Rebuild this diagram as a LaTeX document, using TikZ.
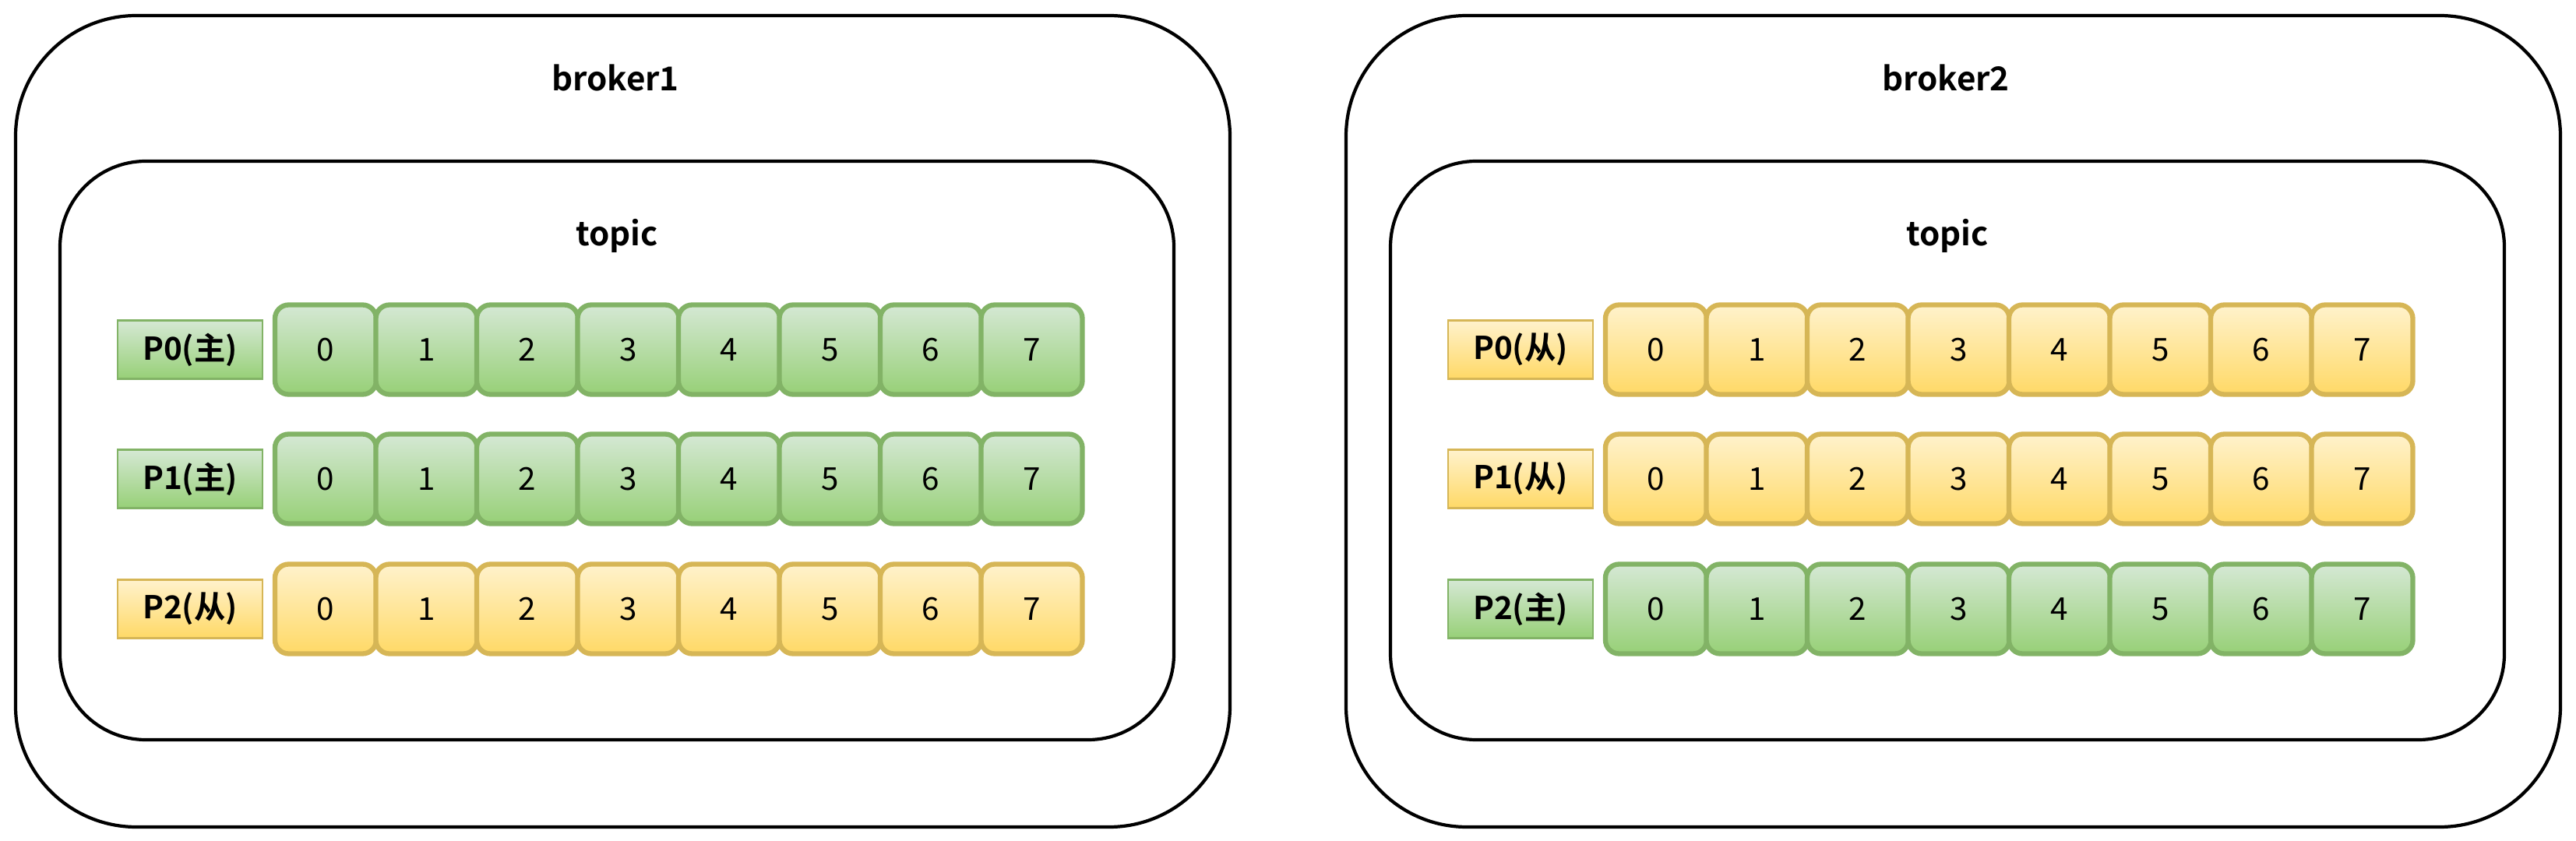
\documentclass[tikz,border=0pt]{standalone}
\usepackage{fontspec}
\setmainfont{Noto Sans CJK SC}[BoldFont={Noto Sans CJK SC Bold}]
\usepackage{xcolor}
\definecolor{LeadTop}{HTML}{D5E8D4}
\definecolor{LeadBottom}{HTML}{97D077}
\definecolor{LeadEdge}{HTML}{82B366}
\definecolor{FollowTop}{HTML}{FFF2CC}
\definecolor{FollowBottom}{HTML}{FFD966}
\definecolor{FollowEdge}{HTML}{D6B656}
\usepackage{tikz}
\usetikzlibrary{positioning}

\begin{document}
\begin{tikzpicture}[
    font=\fontsize{11.5}{13}\selectfont,
    broker_wall/.style={draw=black, line width=1.2pt, rounded corners=1.55cm, minimum width=15.59cm, minimum height=10.42cm, inner sep=0},
    topic_wall/.style={draw=black, line width=1.2pt, rounded corners=1.1cm, minimum width=14.3cm, minimum height=7.43cm, inner sep=0},
    title_text/.style={font=\fontsize{12}{14}\selectfont\bfseries},
    leader/.style={draw=LeadEdge, top color=LeadTop, bottom color=LeadBottom},
    follower/.style={draw=FollowEdge, top color=FollowTop, bottom color=FollowBottom},
    part_tag/.style={minimum width=1.86cm, minimum height=0.75cm, inner sep=0, line width=0.8pt, font=\fontsize{11.5}{13}\selectfont\bfseries},
    slot/.style={minimum width=1.3cm, minimum height=1.15cm, inner sep=0, outer sep=0, rounded corners=5pt, line width=1.8pt}
]
    \useasboundingbox (0,0) rectangle (33.07,-10.8);

    % 1. BROKER 1
    \node[broker_wall] (broker1) at (7.995,-5.41) {};
    \node[title_text] (broker1title) at (7.90,-1.00) {broker1};
    \node[topic_wall] (topic1) at (7.92,-5.785) {};
    \node[title_text] (topic1title) at (7.92,-3.03) {topic};

    \foreach \r/\y/\role/\tag in {0/-4.49/leader/主, 1/-6.15/leader/主, 2/-7.82/follower/从} {
        \node[part_tag, \role] (b1p\r) at (2.44,\y) {P\r(\tag)};
        \foreach \i in {0,...,7} {
            \node[slot, \role] (b1p\r c\i) at ({4.18+1.295*\i},\y) {\i};
        }
    }

    % 2. BROKER 2
    \begin{scope}[xshift=17.08cm]
        \node[broker_wall] (broker2) at (7.995,-5.41) {};
        \node[title_text] (broker2title) at (7.90,-1.00) {broker2};
        \node[topic_wall] (topic2) at (7.92,-5.785) {};
        \node[title_text] (topic2title) at (7.92,-3.03) {topic};

        \foreach \r/\y/\role/\tag in {0/-4.49/follower/从, 1/-6.15/follower/从, 2/-7.82/leader/主} {
            \node[part_tag, \role] (b2p\r) at (2.44,\y) {P\r(\tag)};
            \foreach \i in {0,...,7} {
                \node[slot, \role] (b2p\r c\i) at ({4.18+1.295*\i},\y) {\i};
            }
        }
    \end{scope}

\end{tikzpicture}
\end{document}
